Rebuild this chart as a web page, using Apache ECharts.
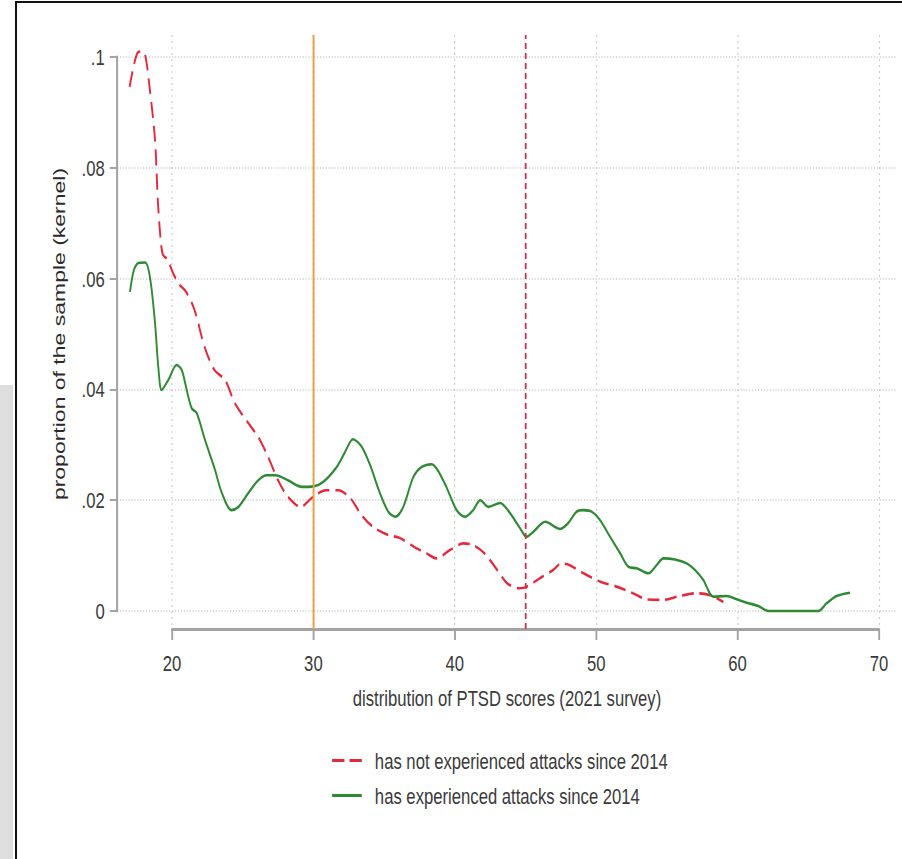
<!DOCTYPE html>
<html>
<head>
<meta charset="utf-8">
<script src="https://cdn.jsdelivr.net/npm/echarts@6/dist/echarts.min.js"></script>
<style>
  html, body { margin: 0; padding: 0; background: #fff; overflow: hidden; width: 902px; height: 859px; }
  #wrap { position: absolute; left: 0; top: 0; width: 1244px; height: 859px; transform: scaleX(0.72508); transform-origin: 0 0; }
  #chart { width: 1244px; height: 859px; }
  #strip { position: absolute; left: 0; top: 385px; width: 13px; height: 474px; background: #dedede; }
  #frameL { position: absolute; left: 15px; top: 1px; width: 2px; height: 858px; background: #111; }
  #frameT { position: absolute; left: 15px; top: 1px; width: 887px; height: 2px; background: #111; }
</style>
</head>
<body>
<div id="wrap"><div id="chart"></div></div>
<div id="strip"></div>
<div id="frameL"></div>
<div id="frameT"></div>
<script>
// ---- data ----
const notAttackedName = 'has not experienced attacks since 2014';
const attackedName = 'has experienced attacks since 2014';

const notAttackedX = [17.0, 17.3, 17.57, 17.85, 18.1, 18.44, 18.8, 19.0, 19.2, 19.36, 19.7, 20.07, 20.5, 21.0, 21.6, 22.3, 23.0, 23.75, 24.45, 25.4, 26.1, 26.8, 27.5, 28.2, 29.1, 29.97, 30.9, 31.75, 32.6, 33.4, 34.2, 35.3, 36.1, 37.3, 38.0, 38.7, 39.66, 40.6, 41.3, 42.1, 43.0, 43.7, 44.6, 45.1, 46.0, 46.95, 47.55, 48.1, 49.1, 50.3, 51.45, 52.6, 53.57, 54.7, 55.9, 57.1, 58.0, 58.75, 59.0];
const notAttackedY = [0.0946, 0.0985, 0.1008, 0.1010, 0.1004, 0.094, 0.085, 0.074, 0.067, 0.0643, 0.0634, 0.061, 0.0590, 0.0576, 0.0543, 0.0477, 0.0435, 0.0417, 0.0375, 0.0339, 0.0314, 0.0278, 0.0236, 0.0206, 0.0188, 0.0206, 0.0218, 0.0218, 0.0204, 0.0173, 0.0152, 0.0137, 0.0132, 0.0113, 0.0104, 0.0095, 0.0110, 0.0122, 0.0119, 0.0104, 0.0074, 0.0050, 0.0041, 0.0044, 0.0059, 0.0074, 0.0086, 0.0083, 0.0068, 0.0053, 0.0044, 0.0032, 0.0021, 0.0020, 0.0027, 0.0032, 0.0029, 0.0020, 0.0016];

const attackedX = [17.03, 17.3, 17.62, 18.1, 18.44, 18.8, 19.03, 19.27, 19.74, 20.33, 20.69, 21.04, 21.39, 21.75, 22.33, 23.04, 23.5, 24.2, 24.7, 25.4, 26.1, 26.7, 27.3, 28.2, 29.17, 30.0, 30.7, 31.65, 32.2, 32.8, 33.4, 34.0, 34.7, 35.3, 35.8, 36.36, 37.07, 37.66, 38.37, 38.8, 39.4, 40.13, 40.72, 41.3, 41.8, 42.37, 43.2, 43.9, 44.6, 45.08, 45.55, 46.4, 47.44, 48.03, 48.6, 49.09, 49.7, 50.27, 50.98, 51.7, 52.27, 52.86, 53.7, 54.28, 54.75, 55.57, 56.4, 56.99, 57.57, 58.28, 59.23, 59.93, 60.64, 61.46, 62.17, 63.5, 65.7, 66.3, 67.0, 67.95];
const attackedY = [0.0576, 0.0615, 0.0628, 0.0629, 0.0603, 0.052, 0.0441, 0.0399, 0.0417, 0.0444, 0.0435, 0.0399, 0.0366, 0.0357, 0.0309, 0.0255, 0.0215, 0.0182, 0.0188, 0.0213, 0.0236, 0.0245, 0.0245, 0.0236, 0.0224, 0.0225, 0.0233, 0.0260, 0.0285, 0.0310, 0.0297, 0.0264, 0.0213, 0.0179, 0.0170, 0.0188, 0.0242, 0.0260, 0.0265, 0.0254, 0.0224, 0.0182, 0.0170, 0.0182, 0.0200, 0.0188, 0.0195, 0.0177, 0.0150, 0.0134, 0.0143, 0.0161, 0.0148, 0.0159, 0.0179, 0.0182, 0.0179, 0.0164, 0.0134, 0.0104, 0.0080, 0.0077, 0.0068, 0.0083, 0.0095, 0.0093, 0.0086, 0.0074, 0.0056, 0.0026, 0.0027, 0.0021, 0.0015, 0.0009, 0.0000, 0.0000, 0.0000, 0.0014, 0.0027, 0.0033];

const xTickValues = [20, 30, 40, 50, 60, 70];
const xTickLabels = ['20', '30', '40', '50', '60', '70'];
const yTickValues = [0, 0.02, 0.04, 0.06, 0.08, 0.1];
const yTickLabels = ['0', '.02', '.04', '.06', '.08', '.1'];

const cutoffLow = 30;   // solid orange reference line
const cutoffHigh = 45;  // dashed red reference line

const xTitle = 'distribution of PTSD scores (2021 survey)';
const yTitle = 'proportion of the sample (kernel)';

// ---- chart ----
const FONT = '"Liberation Sans", Arial, Helvetica, sans-serif';
const TXT = '#3a3a3a';
const RED = '#e5283a';
const GREEN = '#2f8a34';
function pickLabel(values, labels) {
  return function (v) {
    const i = values.findIndex(t => Math.abs(t - v) < 1e-9);
    return i >= 0 ? labels[i] : '';
  };
}
const zip = (xs, ys) => xs.map((x, i) => [x, ys[i]]);

const chart = echarts.init(document.getElementById('chart'), null, { renderer: 'svg' });
chart.setOption({
  animation: false,
  backgroundColor: 'transparent',
  textStyle: { fontFamily: FONT },
  grid: [
    // 0: x axis (20..70)
    { left: 237.2, right: 31.7, top: 35, bottom: 230 },
    // 1: y axis (0..0.1)
    { left: 161.4, right: 7, top: 57, bottom: 248 },
    // 2: plot region for the curves and reference lines
    { left: 161.4, right: 7, top: 35, bottom: 230 }
  ],
  xAxis: [
    {
      type: 'value', gridIndex: 0, min: 20, max: 70, interval: 10,
      position: 'bottom',
      axisLine: { show: true, lineStyle: { color: '#a3a3a3', width: 3 } },
      axisTick: { show: true, inside: false, length: 11, lineStyle: { color: '#a3a3a3', width: 2.6 } },
      axisLabel: { show: true, margin: 22, fontSize: 23, color: TXT, fontFamily: FONT, formatter: pickLabel(xTickValues, xTickLabels) },
      splitLine: { show: true, lineStyle: { color: '#cccccc', width: 1.6, type: [2, 4] } },
      name: xTitle, nameLocation: 'middle', nameGap: 57.5,
      nameTextStyle: { fontSize: 23, color: TXT, fontFamily: FONT, padding: [0, 51, 0, 0] }
    },
    { type: 'value', gridIndex: 1, min: 0, max: 1, show: false },
    { type: 'value', gridIndex: 2, min: 16.113, max: 71.267, show: false, splitLine: { show: false } }
  ],
  yAxis: [
    { type: 'value', gridIndex: 0, min: 0, max: 1, show: false, splitLine: { show: false } },
    {
      type: 'value', gridIndex: 1, min: 0, max: 0.1, interval: 0.02, position: 'left',
      axisLine: { show: true, lineStyle: { color: '#a3a3a3', width: 2.8 } },
      axisTick: { show: true, inside: false, length: 10, lineStyle: { color: '#a3a3a3', width: 2 } },
      axisLabel: { show: true, margin: 17, fontSize: 23, color: TXT, fontFamily: FONT, formatter: pickLabel(yTickValues, yTickLabels) },
      splitLine: { show: true, lineStyle: { color: '#c8c8c8', width: 1.6, type: [1.5, 2.5] } },
      name: yTitle, nameLocation: 'middle', nameRotate: 90, nameGap: 68,
      nameTextStyle: { fontSize: 23, color: '#2a2a2a', fontFamily: FONT }
    },
    { type: 'value', gridIndex: 2, min: -0.00325, max: 0.10397, show: false, splitLine: { show: false } }
  ],
  legend: {
    data: [
      { name: notAttackedName, icon: 'path://M0,0H17V3H0Z M24,0H41V3H24Z' },
      { name: attackedName, icon: 'path://M0,0H41V3H0Z' }
    ],
    orient: 'vertical', left: 458, top: 749, padding: 0,
    itemWidth: 41, itemHeight: 3, itemGap: 12,
    textStyle: { fontSize: 23, color: TXT, fontFamily: FONT, padding: [0, 0, 0, 13] }
  },
  series: [
    {
      name: notAttackedName, type: 'line', xAxisIndex: 2, yAxisIndex: 2,
      data: zip(notAttackedX, notAttackedY),
      symbol: 'none', smooth: 0.3, z: 3,
      lineStyle: { color: RED, width: 2.6, type: [16, 8] },
      itemStyle: { color: RED },
      markLine: {
        silent: true, symbol: 'none', label: { show: false },
        data: [
          { xAxis: cutoffLow, lineStyle: { color: '#f39c3c', width: 2.6, type: 'solid' } },
          { xAxis: cutoffHigh, lineStyle: { color: '#d42a4a', width: 2.4, type: [6, 4] } }
        ]
      }
    },
    {
      name: attackedName, type: 'line', xAxisIndex: 2, yAxisIndex: 2,
      data: zip(attackedX, attackedY),
      symbol: 'none', smooth: 0.3, z: 4,
      lineStyle: { color: GREEN, width: 2.6, type: 'solid' },
      itemStyle: { color: GREEN }
    }
  ]
});
</script>
</body>
</html>
